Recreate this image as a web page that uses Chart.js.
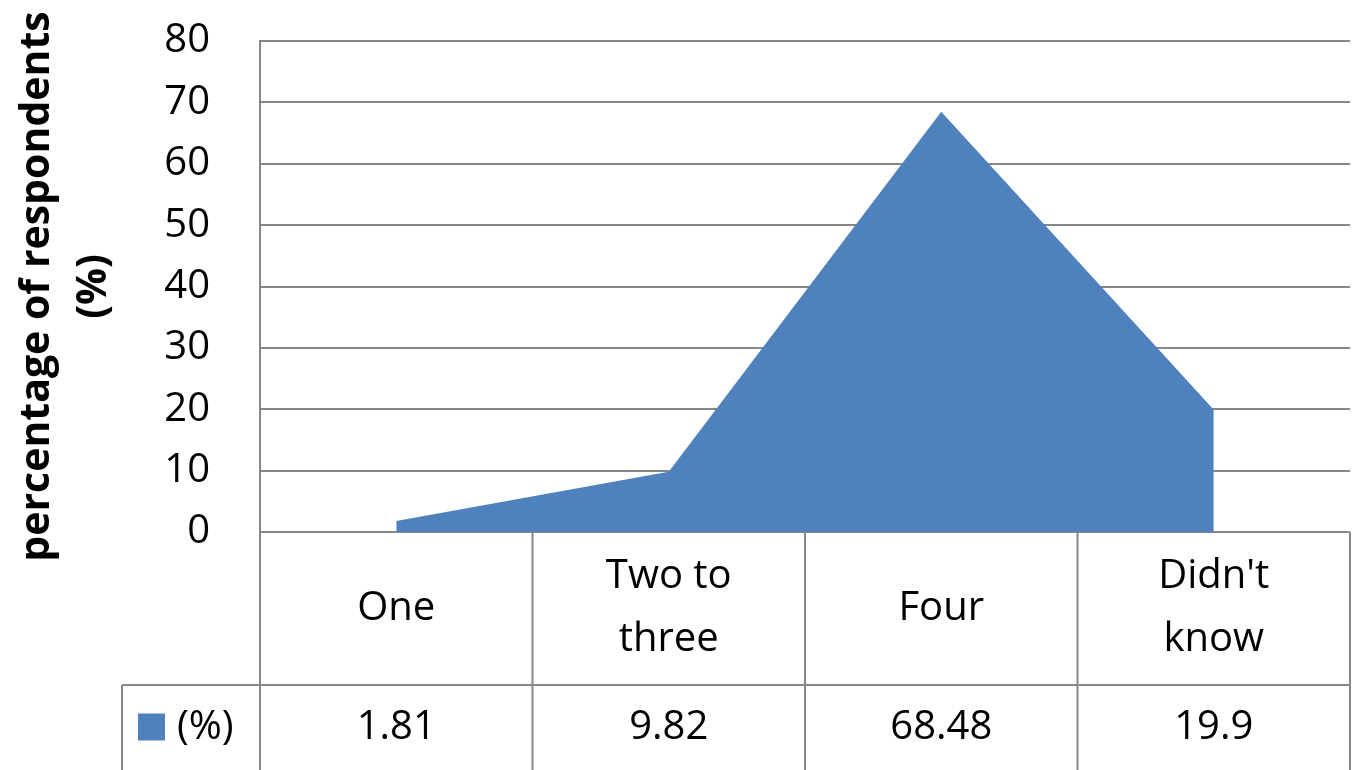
<!DOCTYPE html>
<html>
<head>
<meta charset="utf-8">
<title>Percentage of respondents</title>
<script src="https://cdn.jsdelivr.net/npm/chart.js@4.4.1/dist/chart.umd.min.js"></script>
<style>
  html, body { margin: 0; padding: 0; background: #fff; }
  #wrap { width: 1358px; height: 770px; }
</style>
</head>
<body>
<div id="wrap"><canvas id="chartQuest" width="1358" height="770"></canvas></div>
<script>
var categories = ['One', 'Two to three', 'Four', "Didn't know"];
var percentages = [1.81, 9.82, 68.48, 19.9];
var seriesName = '(%)';
var yTicks = [0, 10, 20, 30, 40, 50, 60, 70, 80];
var yTitle = ['percentage of respondents', '(%)'];

var fontFamily = '"Open Sans", "Noto Sans", sans-serif';
var lineColor = '#878787';
var fillColor = '#4f81bd';

// wrap a label into lines that fit inside a table cell
function wrapLabel(ctx, text, maxWidth) {
  var words = text.split(' ');
  var lines = [];
  var line = '';
  words.forEach(function (w) {
    var test = line ? line + ' ' + w : w;
    if (line && ctx.measureText(test).width > maxWidth) {
      lines.push(line);
      line = w;
    } else {
      line = test;
    }
  });
  if (line) lines.push(line);
  return lines;
}

// data table under the plot: category row, then the value row with legend key
var dataTable = {
  id: 'dataTable',
  afterDraw: function (chart) {
    var ctx = chart.ctx;
    var area = chart.chartArea;
    var xScale = chart.scales.x;
    var bottom = chart.height;
    var catRowHeight = 153;
    var rowSplit = area.bottom + catRowHeight;
    var legendLeft = 122;
    var cellW = (area.right - area.left) / categories.length;

    ctx.save();
    ctx.strokeStyle = lineColor;
    ctx.lineWidth = 2;
    ctx.beginPath();
    for (var i = 0; i <= categories.length; i++) {
      var bx = area.left + i * cellW;
      ctx.moveTo(bx, area.bottom);
      ctx.lineTo(bx, bottom);
    }
    ctx.moveTo(legendLeft, rowSplit);
    ctx.lineTo(area.right, rowSplit);
    ctx.moveTo(legendLeft, rowSplit);
    ctx.lineTo(legendLeft, bottom);
    ctx.stroke();

    ctx.fillStyle = '#000';
    ctx.font = '40px ' + fontFamily;
    ctx.textAlign = 'center';
    ctx.textBaseline = 'middle';

    var catMid = area.bottom + catRowHeight / 2;
    var valMid = (rowSplit + bottom) / 2;
    var lineGap = 63;

    categories.forEach(function (cat, idx) {
      var cx = xScale.getPixelForValue(idx);
      var lines = wrapLabel(ctx, cat, 200);
      var startY = catMid - (lines.length - 1) * lineGap / 2;
      lines.forEach(function (l, j) {
        ctx.fillText(l, cx, startY + j * lineGap);
      });
      ctx.fillText(String(percentages[idx]), cx, valMid);
    });

    // legend key
    ctx.fillStyle = fillColor;
    ctx.fillRect(138, valMid - 14, 27, 27);
    ctx.fillStyle = '#000';
    ctx.textAlign = 'left';
    ctx.fillText(seriesName, 177, valMid);
    ctx.restore();
  }
};

var ctx = document.getElementById('chartQuest');
var myChart = new Chart(ctx, {
  type: 'line',
  data: {
    labels: categories,
    datasets: [
      {
        label: seriesName,
        data: percentages,
        fill: 'origin',
        backgroundColor: fillColor,
        borderWidth: 0,
        pointRadius: 0,
        tension: 0
      }
    ]
  },
  options: {
    responsive: false,
    animation: false,
    layout: {
      padding: { top: 41, right: 8, left: 0, bottom: 0 }
    },
    plugins: {
      legend: { display: false },
      tooltip: { enabled: false }
    },
    scales: {
      x: {
        offset: true,
        ticks: { display: false },
        grid: { display: false },
        border: { display: false },
        afterFit: function (scale) { scale.height = 238; }
      },
      y: {
        min: yTicks[0],
        max: yTicks[yTicks.length - 1],
        ticks: {
          stepSize: yTicks[1] - yTicks[0],
          padding: 50,
          color: '#000',
          font: { family: fontFamily, size: 40 }
        },
        grid: { color: lineColor, lineWidth: 2, drawTicks: false },
        border: { color: lineColor, width: 2 },
        title: {
          display: true,
          text: yTitle,
          color: '#000',
          padding: { top: 8, bottom: 0 },
          font: { family: fontFamily, size: 41, weight: 'bold', lineHeight: 1.41 }
        },
        afterFit: function (scale) {
          // fixed axis width; the layout padding already leaves room for the top label
          scale.width = 260;
          scale.paddingTop = 0;
          scale.paddingBottom = 0;
        }
      }
    }
  },
  plugins: [dataTable]
});
</script>
</body>
</html>
